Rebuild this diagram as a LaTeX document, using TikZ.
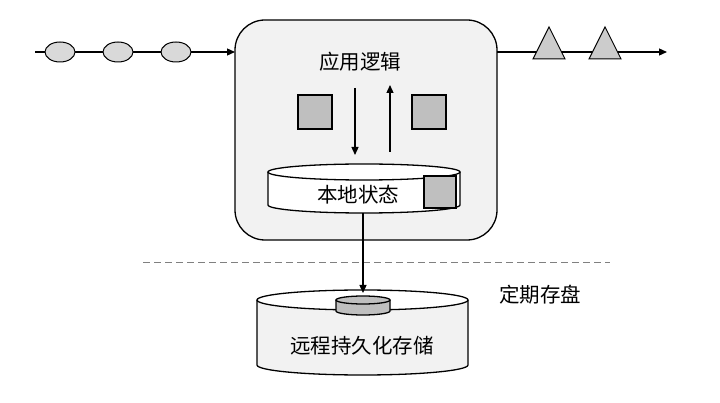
\documentclass[tikz,border=0pt]{standalone}
\usepackage{fontspec}
\setmainfont{Noto Sans CJK SC}
\usetikzlibrary{arrows.meta,shapes.geometric}
\definecolor{boxfill}{HTML}{F2F2F2}
\definecolor{itemfill}{HTML}{D9D9D9}
\definecolor{blockfill}{HTML}{BFBFBF}
\tikzset{
  line/.style={line width=1.3pt, black},
  flow/.style={line, -{Triangle[length=8pt,width=7pt]}},
  item/.style={draw, line width=1pt, fill=itemfill, ellipse, minimum width=30pt, minimum height=20pt, inner sep=0pt},
  tri/.style={draw, line width=1pt, fill=blockfill!80, isosceles triangle, shape border rotate=90, isosceles triangle stretches, minimum width=32pt, minimum height=32pt, inner sep=0pt},
  block/.style={draw, line width=1.2pt, fill=blockfill, minimum size=34pt, inner sep=0pt},
  label/.style={font=\fontsize{20.5}{24}\selectfont, inner sep=0pt}
}
\begin{document}
\begin{tikzpicture}[x=1pt, y=-1pt]
	\useasboundingbox (0,0) rectangle (720,403);
	
	% operator box
	\draw[line, fill=boxfill, rounded corners=30pt] (235,20) rectangle (497,240);
	\coordinate (in) at (35,52);
	\coordinate (boxW) at (235,52);
	\coordinate (boxE) at (497,52);
	\coordinate (out) at (667,52);
	\draw[flow] (in) -- (boxW);
	\draw[flow] (boxE) -- (out);
	\foreach \x/\n in {60/a,118/b,176/c}
		\node[item] (e\n) at (\x,52) {};
	\foreach \x/\n in {549/a,605/b}
		\node[tri] (t\n) at (\x,49) {};
	
	\node[label] (logic) at (360,62) {应用逻辑};
	\node[block] (sqL) at (315,112) {};
	\node[block] (sqR) at (429,112) {};
	\coordinate (dnA) at (355,88);
	\coordinate (dnB) at (355,155);
	\coordinate (upA) at (390,152);
	\coordinate (upB) at (390,85);
	\draw[flow] (dnA) -- (dnB);
	\draw[flow] (upA) -- (upB);
	
	% local state
	\draw[line, fill=white] (268,172) -- (268,205) arc[start angle=180, end angle=0, x radius=96, y radius=8] -- (460,172);
	\draw[line, fill=white] (364,172) ellipse[x radius=96, y radius=8];
	\node[label] (local) at (358,195) {本地状态};
	\node[block, minimum size=32pt] (sqS) at (440,192) {};
	
	% checkpoint
	\draw[gray, line width=1pt, dash pattern=on 7pt off 4pt] (143,263) -- (610,263);
	\node[label] (ckpt) at (540,295) {定期存盘};
	\coordinate (snapA) at (363,213);
	\coordinate (snapB) at (363,293);
	
	% remote storage
	\draw[line, fill=boxfill] (257,300) -- (257,365) arc[start angle=180, end angle=0, x radius=105.5, y radius=10] -- (468,300);
	\draw[line, fill=white] (362.5,300) ellipse[x radius=105.5, y radius=10];
	\draw[line, fill=blockfill] (336,300) -- (336,311) arc[start angle=180, end angle=0, x radius=27, y radius=4] -- (390,300);
	\draw[line, fill=blockfill] (363,300) ellipse[x radius=27, y radius=4];
	\node[label] (remote) at (362,346) {远程持久化存储};
	\draw[flow] (snapA) -- (snapB);
\end{tikzpicture}
\end{document}
